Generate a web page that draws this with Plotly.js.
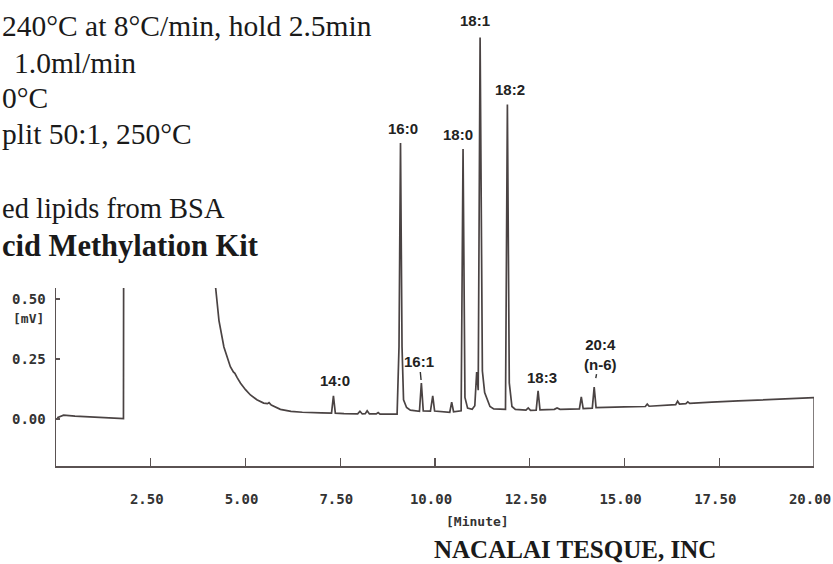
<!DOCTYPE html>
<html>
<head>
<meta charset="utf-8">
<script src="https://cdn.plot.ly/plotly-3.0.1.min.js"></script>
<style>html,body{margin:0;padding:0;background:#fff;}#chart{width:833px;height:564px;}</style>
</head>
<body>
<div id="chart"></div>
<script>
// Retention time (min)
const times = [0.03,0.20,0.50,1.00,1.50,1.78,1.80,2.50,3.20,3.80,4.21,4.30,4.43,4.60,4.68,4.72,4.78,4.87,5.00,5.13,5.30,5.48,5.58,5.62,5.68,5.92,6.20,6.50,7.00,7.27,7.32,7.37,7.60,7.96,8.02,8.08,8.16,8.21,8.27,8.45,8.50,8.55,9.00,9.05,9.09,9.13,9.17,9.25,9.35,9.50,9.59,9.64,9.69,9.88,9.94,9.99,10.39,10.44,10.49,10.69,10.74,10.79,10.86,10.98,11.05,11.10,11.14,11.19,11.25,11.31,11.38,11.45,11.55,11.86,11.91,11.96,12.03,12.12,12.40,12.46,12.52,12.67,12.72,12.77,13.15,13.22,13.30,13.81,13.86,13.91,14.15,14.20,14.25,14.60,15.00,15.55,15.60,15.65,16.00,16.35,16.40,16.45,16.62,16.67,16.72,17.00,17.30,18.00,18.70,19.30,20.00];
// Detector signal (mV)
const signal = [0.005,0.016,0.012,0.007,0.003,0.002,2.60,2.40,1.90,1.20,0.55,0.41,0.30,0.218,0.196,0.19,0.172,0.149,0.122,0.100,0.080,0.066,0.064,0.068,0.058,0.040,0.032,0.028,0.025,0.024,0.096,0.024,0.022,0.021,0.032,0.021,0.022,0.034,0.021,0.021,0.027,0.020,0.020,0.30,1.150,0.30,0.080,0.048,0.037,0.032,0.032,0.150,0.034,0.033,0.096,0.033,0.028,0.070,0.030,0.034,1.125,0.090,0.045,0.040,0.055,0.196,0.120,1.590,0.200,0.110,0.080,0.052,0.042,0.040,1.310,0.150,0.052,0.040,0.037,0.046,0.036,0.037,0.117,0.038,0.040,0.046,0.040,0.042,0.092,0.043,0.045,0.133,0.047,0.047,0.050,0.052,0.062,0.053,0.056,0.060,0.074,0.062,0.064,0.071,0.065,0.066,0.070,0.075,0.080,0.084,0.089];
// Peak labels
const peakNames = ["14:0","16:0","16:1","18:0","18:1","18:2","18:3","20:4<br>(n-6)"];
const peakTimes = [7.32,9.09,9.64,10.74,11.19,11.91,12.72,14.20];
// Axis ticks
const xTickVals = [2.5,5,7.5,10,12.5,15,17.5,20];
const xTickText = ["2.50","5.00","7.50","10.00","12.50","15.00","17.50","20.00"];
const yTickVals = [0,0.25,0.5];
const yTickText = ["0.00","0.25","0.50"];
// Method notes (visible fragments)
const noteLines = ["240°C at 8°C/min, hold 2.5min","1.0ml/min","0°C","plit 50:1, 250°C","ed lipids from BSA","<b>cid Methylation Kit</b>"];

const W = 833, H = 564, ML = 56, MR = 19, MT = 0, MB = 98;
const PW = W - ML - MR, PH = H - MT - MB;
const yRange = [-0.196, 1.746];
const px = x => (x - ML) / PW;
const py = y => (H - MB - y) / PH;

const axisColor = '#5a5252';
const monoFamily = '"DejaVu Sans Mono", monospace';

const trace = {
  x: times, y: signal, type:'scatter', mode:'lines',
  line:{color:'#4a4343', width:1.7}, hoverinfo:'skip', showlegend:false
};

// label offsets (styling)
const lblStyle = [
  {dx:2, dy:15}, {dx:2, dy:15}, {dx:-2, dy:21, arrow:true}, {dx:-5, dy:15},
  {dx:-5, dy:17}, {dx:3, dy:15}, {dx:4, dy:13}, {dx:6, dy:33, arrow:true, standoff:9}
];
const annotations = [];
peakNames.forEach((name, i) => {
  const idx = times.indexOf(peakTimes[i]);
  const yv = signal[idx];
  const s = lblStyle[i];
  const font = {family:'"Liberation Sans", Arial, sans-serif', size:15, color:'#222'};
  if (s.arrow) {
    annotations.push({x:peakTimes[i], y:yv, xref:'x', yref:'y', text:'<b>'+name+'</b>',
      showarrow:true, arrowhead:0, arrowwidth:1.4, arrowcolor:'#333', ax:s.dx, ay:-s.dy,
      standoff:s.standoff||3, font:font});
  } else {
    annotations.push({x:peakTimes[i], y:yv, xref:'x', yref:'y', text:'<b>'+name+'</b>',
      showarrow:false, xshift:s.dx, yshift:s.dy, yanchor:'middle', font:font});
  }
});

const noteX = [0, 12, 0, 0, 0, 0];
const noteY = [26, 63, 98, 134, 208, 246];
const noteSize = [29.5, 29.5, 29.5, 29.5, 28.5, 30.5];
noteLines.forEach((t, i) => {
  annotations.push({xref:'paper', yref:'paper', x:px(noteX[i]), y:py(noteY[i]),
    xanchor:'left', yanchor:'middle', text:t, showarrow:false,
    font:{family:'"Liberation Serif", "Times New Roman", serif', size:noteSize[i], color:'#1a1a1a'}});
});
annotations.push({xref:'paper', yref:'paper', x:px(28), y:py(318), text:'<b>[mV]</b>', showarrow:false,
  xanchor:'center', yanchor:'middle', font:{family:monoFamily, size:13, color:'#333'}});
annotations.push({xref:'paper', yref:'paper', x:px(477), y:py(521), text:'<b>[Minute]</b>', showarrow:false,
  xanchor:'center', yanchor:'middle', borderpad:0, font:{family:monoFamily, size:13, color:'#333'}});
annotations.push({xref:'paper', yref:'paper', x:px(433), y:py(564), text:'<b>NACALAI TESQUE, INC</b>', showarrow:false,
  xanchor:'left', yanchor:'bottom', borderpad:0, font:{family:'"Liberation Serif", "Times New Roman", serif', size:25, color:'#1a1a1a'}});

const shapes = [
  {type:'line', xref:'x', yref:'y', x0:times[times.length-1], x1:times[times.length-1],
   y0:signal[signal.length-1], y1:yRange[0], line:{color:axisColor, width:1.5}},
  {type:'rect', xref:'paper', yref:'paper', x0:-0.2, x1:px(385), y0:py(288), y1:1.1,
   fillcolor:'#ffffff', line:{width:0}, layer:'above'}
];

const tickFont = {family:monoFamily, size:14, color:'#333', weight:'bold'};
const layout = {
  width:W, height:H, margin:{l:ML, r:MR, t:MT, b:MB, pad:0},
  paper_bgcolor:'#fff', plot_bgcolor:'#fff', showlegend:false,
  xaxis:{range:[0,20], showline:true, linecolor:axisColor, linewidth:1.5, mirror:false,
    ticks:'inside', ticklen:8, tickwidth:1.2, tickcolor:axisColor,
    tickvals:xTickVals, ticktext:xTickText, tickfont:tickFont, ticklabeloverflow:'allow',
    ticklabelshift:-4, ticklabelstandoff:20, showgrid:false, zeroline:false, fixedrange:true},
  yaxis:{range:yRange, showline:true, linecolor:axisColor, linewidth:1.5,
    ticks:'inside', ticklen:4, tickwidth:1.2, tickcolor:axisColor,
    tickvals:yTickVals, ticktext:yTickText, tickfont:tickFont,
    ticklabelstandoff:6, showgrid:false, zeroline:false, fixedrange:true},
  annotations:annotations, shapes:shapes
};

Plotly.newPlot('chart', [trace], layout, {staticPlot:true, displayModeBar:false});
</script>
</body>
</html>
